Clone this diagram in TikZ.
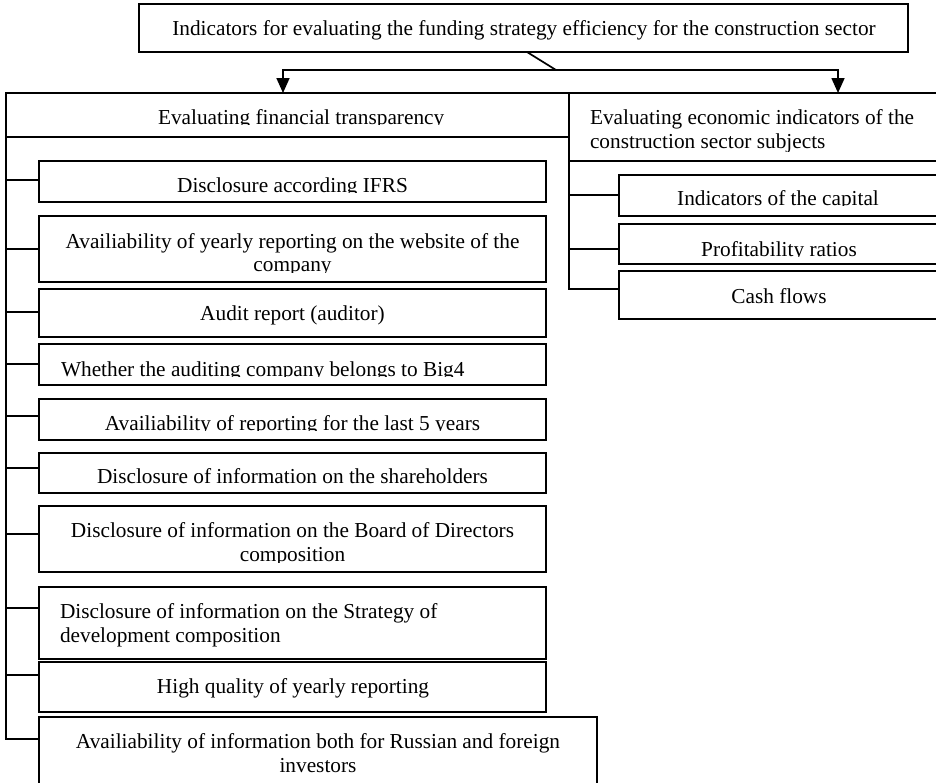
\documentclass[tikz,border=0pt]{standalone}
\usepackage{fontspec}
\setmainfont{Liberation Serif}
\usetikzlibrary{arrows.meta}
\begin{document}
\begin{tikzpicture}[x=1pt,y=-1pt,
  box/.style={draw, line width=1.7pt, inner sep=0pt, outer sep=0pt, anchor=north west},
  txt/.style={inner sep=0pt, outer sep=0pt, font=\fontsize{21.3}{24}\selectfont, anchor=base},
  txtl/.style={txt, anchor=base west},
  conn/.style={line width=1.7pt},
  arr/.style={conn, -{Triangle[width=13pt,length=15pt]}}]
\clip (0,0) rectangle (936,782);
\fill[white] (0,0) rectangle (936,782);

% top box
\node[box, line width=1.8pt, minimum width=769pt, minimum height=48pt] (top) at (139,4) {};
\node[txt] (toptxt) at (524,35) {Indicators for evaluating the funding strategy efficiency for the construction sector};

% headers
\node[box, minimum width=563pt, minimum height=44pt] (lhead) at (6,93) {};
\begin{scope}\clip (6,93) rectangle (569,124.6);
\node[txtl] (lheadtxt) at (158,124) {Evaluating financial transparency};
\end{scope}
\node[box, minimum width=372pt, minimum height=68pt] (rhead) at (569,93) {};
\node[txtl] (rheadtxt1) at (590,124) {Evaluating economic indicators of the};
\begin{scope}\clip (569,93) rectangle (940,151);
\node[txtl] (rheadtxt2) at (590,148.5) {construction sector subjects};
\end{scope}

% connectors from top
\coordinate (s0) at (527,52);
\coordinate (split) at (556,70);
\coordinate (ltip) at (283,93);
\coordinate (rtip) at (838,93);
\draw[conn] (s0) -- (split);
\draw[arr] (split) -| (ltip);
\draw[arr] (split) -| (rtip);

% left sub boxes
\node[box, minimum width=507pt, minimum height=41pt] (ifrs) at (39,161) {};
\begin{scope}\clip (39,161) rectangle (546,192.8);
\node[txt] (ifrstxt) at (292.5,192.3) {Disclosure according IFRS};
\end{scope}

\node[box, minimum width=507pt, minimum height=66pt] (avail) at (39,216) {};
\node[txt] (availtxt1) at (292.5,248) {Availiability of yearly reporting on the website of the};
\begin{scope}\clip (39,216) rectangle (546,272);
\node[txt] (availtxt2) at (292.5,271.6) {company};
\end{scope}

\node[box, minimum width=507pt, minimum height=48pt] (audit) at (39,289) {};
\node[txt] (audittxt) at (292.5,320) {Audit report (auditor)};

\node[box, minimum width=507pt, minimum height=41pt] (big) at (39,344) {};
\begin{scope}\clip (39,344) rectangle (546,376.6);
\node[txtl] (bigtxt) at (61,376) {Whether the auditing company belongs to Big4};
\end{scope}

\node[box, minimum width=507pt, minimum height=41pt] (last) at (39,399) {};
\begin{scope}\clip (39,399) rectangle (546,430.6);
\node[txt] (lasttxt) at (292.5,430) {Availiability of reporting for the last 5 years};
\end{scope}

\node[box, minimum width=507pt, minimum height=40pt] (share) at (39,453) {};
\node[txt] (sharetxt) at (292.5,483) {Disclosure of information on the shareholders};

\node[box, minimum width=507pt, minimum height=66pt] (board) at (39,506) {};
\node[txt] (boardtxt1) at (292.5,537.5) {Disclosure of information on the Board of Directors};
\begin{scope}\clip (39,506) rectangle (546,562.4);
\node[txt] (boardtxt2) at (292.5,561.8) {composition};
\end{scope}

\node[box, minimum width=507pt, minimum height=72pt] (strat) at (39,587) {};
\node[txtl] (strattxt1) at (60,618) {Disclosure of information on the Strategy of};
\node[txtl] (strattxt2) at (60,642) {development composition};

\node[box, minimum width=507pt, minimum height=50pt] (high) at (39,662) {};
\node[txt] (hightxt) at (293,693.5) {High quality of yearly reporting};

\node[box, minimum width=558pt, minimum height=70pt] (rus) at (39,717) {};
\node[txt] (rustxt1) at (318,748) {Availiability of information both for Russian and foreign};
\node[txt] (rustxt2) at (318,772) {investors};

% left spine
\coordinate (lb1) at (6,180);
\coordinate (lb2) at (6,249);
\coordinate (lb3) at (6,312);
\coordinate (lb4) at (6,364);
\coordinate (lb5) at (6,416);
\coordinate (lb6) at (6,468);
\coordinate (lb7) at (6,534);
\coordinate (lb8) at (6,608);
\coordinate (lb9) at (6,675);
\coordinate (lb10) at (6,739);
\draw[conn] (lhead.south west) -- (lb10) -- (rus.west |- lb10);
\draw[conn] (lb1) -- (ifrs.west |- lb1);
\draw[conn] (lb2) -- (avail.west |- lb2);
\draw[conn] (lb3) -- (audit.west |- lb3);
\draw[conn] (lb4) -- (big.west |- lb4);
\draw[conn] (lb5) -- (last.west |- lb5);
\draw[conn] (lb6) -- (share.west |- lb6);
\draw[conn] (lb7) -- (board.west |- lb7);
\draw[conn] (lb8) -- (strat.west |- lb8);
\draw[conn] (lb9) -- (high.west |- lb9);

% right sub boxes
\node[box, minimum width=322pt, minimum height=41pt] (cap) at (619,175) {};
\begin{scope}\clip (619,175) rectangle (941,205.6);
\node[txt] (captxt) at (778,205) {Indicators of the capital};
\end{scope}
\node[box, minimum width=322pt, minimum height=40pt] (prof) at (619,224) {};
\begin{scope}\clip (619,224) rectangle (941,256.6);
\node[txt] (proftxt) at (779,256) {Profitability ratios};
\end{scope}
\node[box, minimum width=322pt, minimum height=48pt] (cash) at (619,271) {};
\node[txt] (cashtxt) at (779,303) {Cash flows};

% right spine
\coordinate (rb1) at (569,195);
\coordinate (rb2) at (569,249);
\coordinate (rb3) at (569,289);
\draw[conn] (rhead.south west) -- (rb3) -- (cash.west |- rb3);
\draw[conn] (rb1) -- (cap.west |- rb1);
\draw[conn] (rb2) -- (prof.west |- rb2);
\end{tikzpicture}
\end{document}
